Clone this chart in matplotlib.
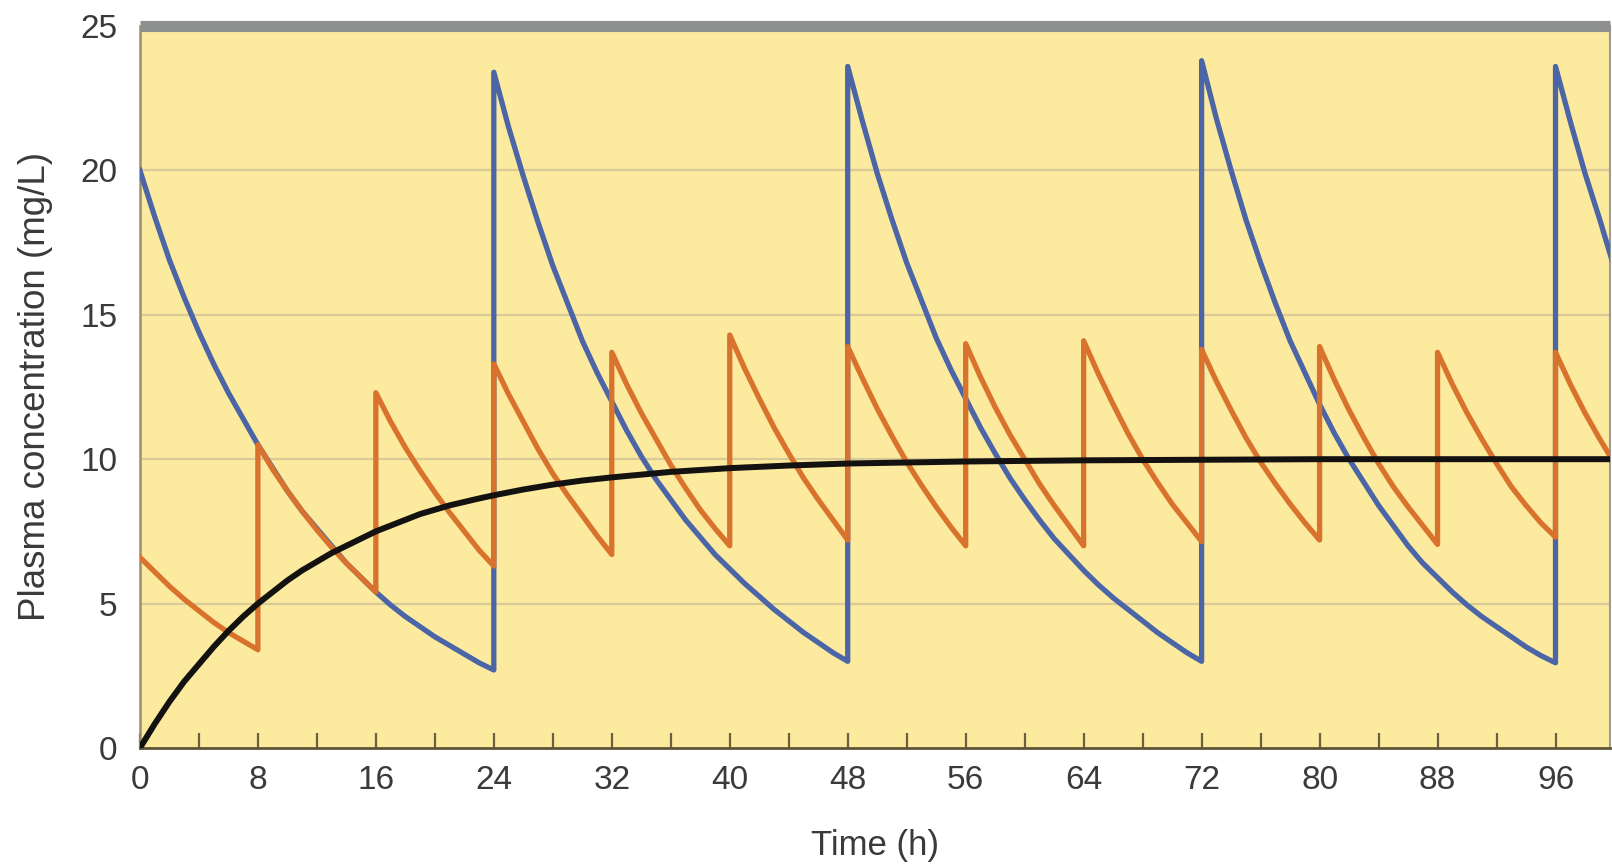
import numpy as np
import matplotlib
matplotlib.use('Agg')
import matplotlib.pyplot as plt
from matplotlib.ticker import FixedLocator

plt.rcParams['font.family'] = ['Liberation Sans', 'DejaVu Sans']

# readings are hourly, starting at each dose time
# single dose every 24 h (blue)
blue_doses = [0, 24, 48, 72, 96]
blue_segs = [
    [20.0, 18.4, 16.9, 15.6, 14.4, 13.3, 12.3, 11.4, 10.5, 9.7, 8.9, 8.2, 7.6,
     7.0, 6.4, 5.9, 5.4, 4.95, 4.55, 4.2, 3.85, 3.55, 3.25, 2.95, 2.7],
    [23.4, 21.5, 19.8, 18.2, 16.7, 15.4, 14.1, 13.0, 12.0, 11.0, 10.1, 9.3, 8.6,
     7.9, 7.3, 6.7, 6.2, 5.7, 5.25, 4.8, 4.4, 4.0, 3.65, 3.3, 3.0],
    [23.6, 21.7, 19.9, 18.3, 16.8, 15.5, 14.2, 13.1, 12.1, 11.1, 10.2, 9.35, 8.6,
     7.9, 7.25, 6.7, 6.15, 5.65, 5.2, 4.8, 4.4, 4.0, 3.65, 3.3, 3.0],
    [23.8, 21.8, 20.0, 18.3, 16.8, 15.4, 14.1, 13.0, 11.9, 10.9, 10.0, 9.2, 8.4,
     7.7, 7.0, 6.4, 5.9, 5.4, 4.95, 4.55, 4.2, 3.85, 3.5, 3.2, 2.95],
    [23.6, 21.7, 19.9, 18.3, 16.6],
]

# dose every 8 h (orange)
orange_doses = [0, 8, 16, 24, 32, 40, 48, 56, 64, 72, 80, 88, 96]
orange_segs = [
    [6.6, 6.1, 5.6, 5.15, 4.75, 4.35, 4.0, 3.7, 3.4],
    [10.5, 9.65, 8.9, 8.2, 7.55, 6.95, 6.4, 5.9, 5.4],
    [12.3, 11.3, 10.4, 9.6, 8.85, 8.15, 7.5, 6.85, 6.3],
    [13.3, 12.25, 11.3, 10.35, 9.5, 8.75, 8.05, 7.35, 6.7],
    [13.7, 12.6, 11.6, 10.7, 9.8, 9.0, 8.25, 7.6, 7.0],
    [14.3, 13.15, 12.1, 11.1, 10.2, 9.35, 8.6, 7.9, 7.2],
    [13.9, 12.8, 11.75, 10.8, 9.9, 9.1, 8.35, 7.65, 7.0],
    [14.0, 12.85, 11.8, 10.85, 10.0, 9.15, 8.4, 7.7, 7.0],
    [14.1, 12.95, 11.9, 10.9, 10.0, 9.2, 8.45, 7.8, 7.15],
    [13.8, 12.7, 11.7, 10.75, 9.9, 9.15, 8.45, 7.8, 7.2],
    [13.9, 12.75, 11.7, 10.75, 9.85, 9.05, 8.35, 7.7, 7.05],
    [13.7, 12.6, 11.6, 10.7, 9.85, 9.05, 8.4, 7.8, 7.3],
    [13.7, 12.6, 11.6, 10.7, 9.85],
]

# continuous infusion (black)
black_t = [0, 1, 2, 3, 4, 5, 6, 7, 8, 9, 10, 11, 12, 13, 14, 15, 16, 17, 18,
           19, 20, 21, 22, 23, 24, 26, 28, 30, 32, 36, 40, 44, 48, 56, 64, 72,
           80, 100]
black_c = [0, 0.83, 1.6, 2.3, 2.9, 3.5, 4.05, 4.55, 5.0, 5.4, 5.8, 6.15, 6.45,
           6.75, 7.0, 7.25, 7.5, 7.7, 7.9, 8.1, 8.25, 8.4, 8.52, 8.64, 8.75,
           8.95, 9.12, 9.26, 9.37, 9.56, 9.69, 9.78, 9.85, 9.92, 9.96, 9.98,
           10.0, 10.0]

xticks = [0, 8, 16, 24, 32, 40, 48, 56, 64, 72, 80, 88, 96]
xminor = [4, 12, 20, 28, 36, 44, 52, 60, 68, 76, 84, 92]
yticks = [0, 5, 10, 15, 20, 25]


def join(doses, segs):
    t, c = [], []
    for d, s in zip(doses, segs):
        t += list(d + np.arange(len(s)))
        c += s
    return t, c


blue_t, blue_c = join(blue_doses, blue_segs)
orange_t, orange_c = join(orange_doses, orange_segs)

txt = '#3a3a3a'
fig = plt.figure(figsize=(16.12, 8.64), dpi=100)
ax = fig.add_axes([0.0868, 0.1343, 0.912, 0.8356])
ax.set_facecolor('#fcea9f')

ax.plot(blue_t, blue_c, color='#4b65a6', lw=3.8, zorder=3)
ax.plot(orange_t, orange_c, color='#d8722c', lw=3.8, zorder=4)
ax.plot(black_t, black_c, color='#141210', lw=4.3, zorder=5)

ax.set_xlim(0, 99.7)
ax.set_ylim(0, 25)
ax.set_xticks(xticks)
ax.xaxis.set_minor_locator(FixedLocator(xminor))
ax.set_yticks(yticks)
for g in [5, 10, 15, 20]:
    ax.axhline(g, color='#d8cb98', lw=1.6, zorder=1)

ax.tick_params(axis='x', which='both', direction='in', length=11, width=1.6,
               color='#6b6040', labelsize=24, labelcolor=txt, pad=12)
ax.tick_params(axis='y', length=0, labelsize=24, labelcolor=txt, pad=16)

ax.spines['top'].set_color('#8e9090')
ax.spines['top'].set_linewidth(8)
ax.spines['top'].set_capstyle('butt')
ax.spines['right'].set_color('#9a9a98')
ax.spines['right'].set_linewidth(1.5)
ax.spines['left'].set_color('#9a8f6a')
ax.spines['left'].set_linewidth(1.8)
ax.spines['bottom'].set_color('#5e5436')
ax.spines['bottom'].set_linewidth(2)

ax.set_xlabel('Time (h)', fontsize=25, color=txt, labelpad=24)
ax.set_ylabel('Plasma concentration (mg/L)', fontsize=26.5, color=txt, labelpad=20)

fig.savefig('out.png', dpi=100, facecolor='white')
